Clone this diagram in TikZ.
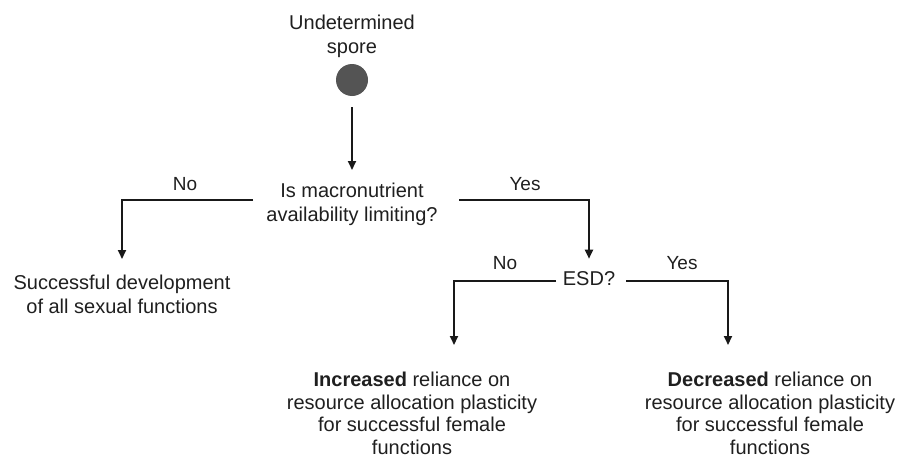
\documentclass[tikz,border=0pt]{standalone}
\usepackage{fontspec}
\setmainfont{Liberation Sans}
\usetikzlibrary{arrows.meta}
\begin{document}
\begin{tikzpicture}[x=1pt,y=-1pt,
  txt/.style={font=\fontsize{20}{24}\selectfont, align=center, inner sep=0pt, text=black!88},
  res/.style={txt, font=\fontsize{20}{22.5}\selectfont},
  lbl/.style={font=\fontsize{19}{23}\selectfont, inner sep=0pt, text=black!88},
  conn/.style={line width=2pt, draw=black!90},
  arr/.style={conn, -{Triangle[length=9pt,width=8pt]}},
]
\useasboundingbox (0,0) rectangle (900,458);
% nodes
\node[txt, anchor=north] (spore) at (352,15) {Undetermined\\spore};
\node[circle, fill=black!67, minimum size=32pt, inner sep=0pt] (dot) at (352,80) {};
\node[txt, anchor=north] (q1) at (352,183) {Is macronutrient\\availability limiting?};
\node[txt, anchor=north] (succ) at (122,275) {Successful development\\of all sexual functions};
\node[txt] (esd) at (589,279) {ESD?};
\node[res, anchor=north] (incr) at (412,372) {\textbf{Increased} reliance on\\resource allocation plasticity\\for successful female\\functions};
\node[res, anchor=north] (decr) at (770,372) {\textbf{Decreased} reliance on\\resource allocation plasticity\\for successful female\\functions};
% labels
\node[lbl] (no1) at (185,184) {No};
\node[lbl] (yes1) at (525,184) {Yes};
\node[lbl] (no2) at (505,263) {No};
\node[lbl] (yes2) at (682,263) {Yes};
% connector ends
\coordinate (qL) at (253,200);
\coordinate (qR) at (459,200);
\coordinate (eL) at (556,281);
\coordinate (eR) at (626,281);
\coordinate (iT) at (454,345);
\coordinate (dT) at (728,345);
% connectors
\draw[arr, shorten <=11pt] (dot) -- ([yshift=13pt]q1.north);
\draw[arr, shorten >=16pt] (qL) -| (succ);
\draw[arr, shorten >=13pt] (qR) -| (esd);
\draw[arr] (eL) -| (iT);
\draw[arr] (eR) -| (dT);
\end{tikzpicture}
\end{document}
